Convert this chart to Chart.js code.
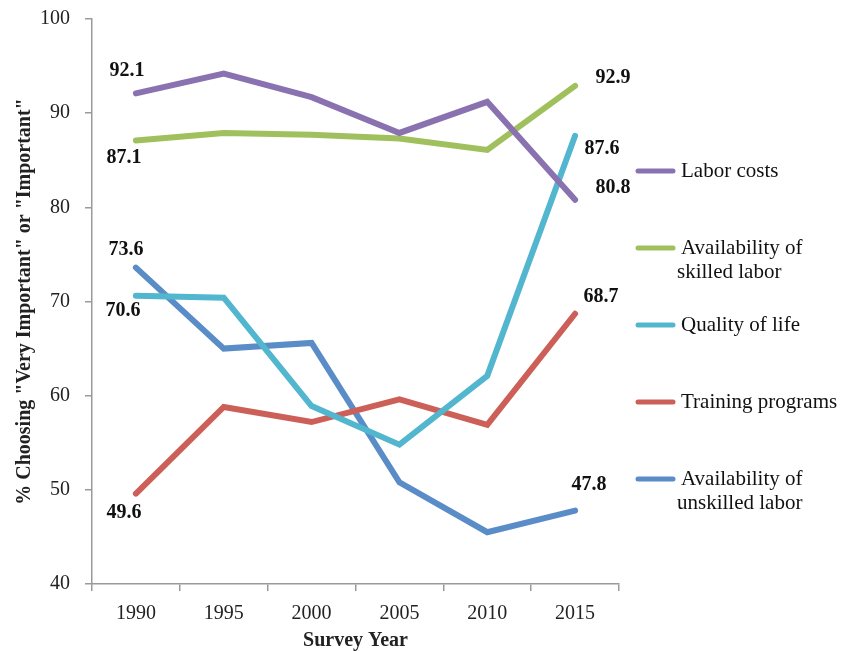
<!DOCTYPE html>
<html>
<head>
<meta charset="utf-8">
<script src="https://cdn.jsdelivr.net/npm/chart.js@4/dist/chart.umd.min.js"></script>
<style>
  html, body { margin: 0; padding: 0; background: #fff; }
  #wrap { width: 843px; height: 651px; }
</style>
</head>
<body>
<div id="wrap"><canvas id="myChart" width="843" height="651"></canvas></div>
<script>
// data ------------------------------------------
var years = ['1990', '1995', '2000', '2005', '2010', '2015'];
var seriesNames = ['Labor costs', 'Availability of\nskilled labor', 'Quality of life', 'Training programs', 'Availability of\nunskilled labor'];
var laborCosts = [92.1, 94.2, 91.7, 87.9, 91.2, 80.8];
var skilledLabor = [87.1, 87.9, 87.7, 87.3, 86.1, 92.9];
var qualityOfLife = [70.6, 70.4, 58.9, 54.8, 62.1, 87.6];
var trainingPrograms = [49.6, 58.8, 57.2, 59.6, 56.9, 68.7];
var unskilledLabor = [73.6, 65.0, 65.6, 50.8, 45.5, 47.8];
var yTicks = [40, 50, 60, 70, 80, 90, 100];

var colors = ['#8A72B1', '#A0C05E', '#52B6CF', '#CC6058', '#5A8CC7'];
var FONT = '"Liberation Serif", serif';

// label offsets for first / last point of each line [dx, dy]
var firstOffsets = [[-9, -23], [-12, 17], [-13, 15], [-12, 19], [-10, -18]];
var lastOffsets = [[38, -12], [38, -8], [27, 13], [26, -17], [14, -26]];

var allSeries = [laborCosts, skilledLabor, qualityOfLife, trainingPrograms, unskilledLabor];

var endLabels = {
  id: 'endLabels',
  afterDatasetsDraw: function (chart) {
    var ctx = chart.ctx;
    ctx.save();
    ctx.font = 'bold 20px ' + FONT;
    ctx.fillStyle = '#111';
    ctx.textAlign = 'center';
    ctx.textBaseline = 'middle';
    chart.data.datasets.forEach(function (ds, i) {
      var pts = chart.getDatasetMeta(i).data;
      var first = pts[0], last = pts[pts.length - 1];
      ctx.fillText(ds.data[0].toFixed(1), first.x + firstOffsets[i][0], first.y + firstOffsets[i][1]);
      ctx.fillText(ds.data[ds.data.length - 1].toFixed(1), last.x + lastOffsets[i][0], last.y + lastOffsets[i][1]);
    });
    ctx.restore();
  }
};

var sideLegend = {
  id: 'sideLegend',
  afterDraw: function (chart) {
    var ctx = chart.ctx;
    ctx.save();
    ctx.font = '21px ' + FONT;
    ctx.fillStyle = '#111';
    ctx.textBaseline = 'middle';
    ctx.textAlign = 'left';
    var x0 = chart.chartArea.right + 17;
    var y0 = 171, step = 77;
    chart.data.datasets.forEach(function (ds, i) {
      var y = y0 + i * step;
      ctx.strokeStyle = ds.borderColor;
      ctx.lineWidth = 5;
      ctx.lineCap = 'round';
      ctx.beginPath();
      ctx.moveTo(x0 + 2, y);
      ctx.lineTo(x0 + 37, y);
      ctx.stroke();
      var lines = seriesNames[i].split('\n');
      lines.forEach(function (t, k) {
        ctx.fillText(t, k === 0 ? x0 + 45 : x0 + 41, y + k * 24);
      });
    });
    ctx.restore();
  }
};

var ctx = document.getElementById('myChart').getContext('2d');
var myChart = new Chart(ctx, {
  type: 'line',
  data: {
    labels: years,
    datasets: allSeries.map(function (d, i) {
      return {
        label: seriesNames[i],
        data: d,
        borderColor: colors[i],
        backgroundColor: colors[i],
        borderWidth: 6,
        pointRadius: 0,
        tension: 0,
        fill: false,
        borderCapStyle: 'round',
        borderJoinStyle: 'miter'
      };
    })
  },
  options: {
    responsive: false,
    animation: false,
    layout: { padding: { top: 19, right: 224, left: 0, bottom: 0 } },
    plugins: {
      legend: { display: false },
      tooltip: { enabled: false }
    },
    scales: {
      x: {
        offset: true,
        grid: {
          offset: true,
          drawOnChartArea: false,
          drawTicks: true,
          tickLength: 7,
          color: '#9a9a9a',
          lineWidth: 1.5
        },
        border: { color: '#9a9a9a', width: 1.5 },
        ticks: { color: '#222', font: { family: FONT, size: 20 }, padding: 11, maxRotation: 0 },
        title: {
          display: true,
          text: 'Survey Year',
          color: '#222',
          font: { family: FONT, size: 20, weight: 'bold', lineHeight: 1 },
          padding: { top: 0, bottom: 0 }
        },
        afterFit: function (scale) {
          scale.height = 67;
          scale.paddingLeft = 0;
          scale.paddingRight = 0;
        }
      },
      y: {
        min: 40,
        max: 100,
        afterBuildTicks: function (scale) {
          scale.ticks = yTicks.map(function (v) { return { value: v }; });
        },
        grid: {
          drawOnChartArea: false,
          drawTicks: true,
          tickLength: 7,
          color: '#9a9a9a',
          lineWidth: 1.5
        },
        border: { color: '#9a9a9a', width: 1.5 },
        ticks: { color: '#222', font: { family: FONT, size: 20 }, padding: 15 },
        title: {
          display: true,
          text: '% Choosing "Very Important" or "Important"',
          color: '#222',
          font: { family: FONT, size: 20, weight: 'bold' },
          padding: { top: 13, bottom: 0 }
        },
        afterFit: function (scale) {
          scale.width = 92;
          scale.paddingTop = 0;
          scale.paddingBottom = 0;
        }
      }
    }
  },
  plugins: [endLabels, sideLegend]
});
</script>
</body>
</html>
